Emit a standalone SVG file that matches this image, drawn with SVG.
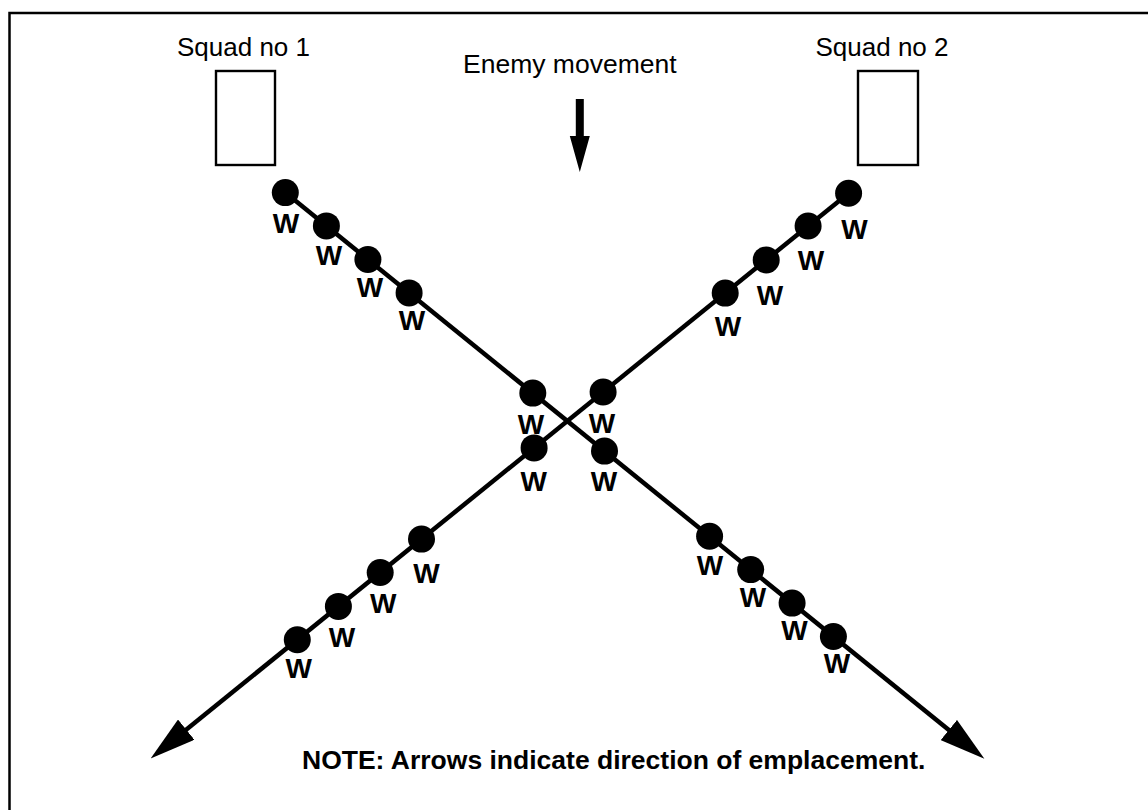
<svg xmlns="http://www.w3.org/2000/svg" width="1148" height="810" viewBox="0 0 1148 810">
<style>
.bg{fill:#fff}
.frame{fill:none;stroke:#000;stroke-width:2.5}
.box{fill:#fff;stroke:#000;stroke-width:2.4}
.dot{fill:#000}
.w{font-family:"Liberation Sans",Arial,Helvetica,sans-serif;font-weight:bold;font-size:28px;text-anchor:middle;fill:#000}
.lbl{font-family:"Liberation Sans",Arial,Helvetica,sans-serif;font-size:26px;fill:#000}
.note{font-family:"Liberation Sans",Arial,Helvetica,sans-serif;font-size:26.5px;font-weight:bold;fill:#000}
.conn{stroke:#000;stroke-width:4.5;fill:none;marker-end:url(#ah)}
</style>
<defs>
<marker id="ah" markerUnits="userSpaceOnUse" markerWidth="46" markerHeight="26" viewBox="0 0 44 25" refX="10" refY="12.5" orient="auto">
<path d="M0,0 L44,12.5 L0,25 z" fill="#000"/>
</marker>
</defs>
<rect class="bg" x="0" y="0" width="1148" height="810"/>
<path class="frame" d="M9.5,810 V13 H1148"/>

<g id="connectors">
<path id="lineA" class="conn" d="M285.3,192.6 L956.9,736.6"/>
<path id="lineB" class="conn" d="M848.6,193.2 L178.1,736.2"/>
</g>

<g id="squad1">
<text class="lbl" x="177" y="55.5">Squad no 1</text>
<rect class="box" x="216" y="71" width="59" height="94"/>
</g>
<g id="squad2">
<text class="lbl" x="815.5" y="55.5">Squad no 2</text>
<rect class="box" x="858" y="71" width="60" height="94"/>
</g>
<g id="enemy">
<text class="lbl" x="463" y="73" style="font-size:26.5px">Enemy movement</text>
<path d="M575.8,99 H583.8 V136 H589.8 L579.8,172 L569.8,136 H575.8 Z" fill="#000"/>
</g>

<g id="a1"><circle class="dot" cx="285.3" cy="192.6" r="13.5"/><text class="w" x="286" y="232.7">W</text></g>
<g id="a2"><circle class="dot" cx="326.4" cy="225.9" r="13.5"/><text class="w" x="329" y="265">W</text></g>
<g id="a3"><circle class="dot" cx="367.9" cy="259.5" r="13.5"/><text class="w" x="370" y="297">W</text></g>
<g id="a4"><circle class="dot" cx="409.1" cy="292.9" r="13.5"/><text class="w" x="412" y="330">W</text></g>
<g id="a5"><circle class="dot" cx="532.8" cy="393.1" r="13.5"/><text class="w" x="531" y="434">W</text></g>
<g id="a6"><circle class="dot" cx="604.5" cy="451.1" r="13.5"/><text class="w" x="604" y="490.7">W</text></g>
<g id="a7"><circle class="dot" cx="709.6" cy="536.3" r="13.5"/><text class="w" x="710" y="575">W</text></g>
<g id="a8"><circle class="dot" cx="750.7" cy="569.6" r="13.5"/><text class="w" x="753" y="607.3">W</text></g>
<g id="a9"><circle class="dot" cx="792.1" cy="603.1" r="13.5"/><text class="w" x="794.5" y="640">W</text></g>
<g id="a10"><circle class="dot" cx="833.4" cy="636.5" r="13.5"/><text class="w" x="837" y="672.7">W</text></g>

<g id="b1"><circle class="dot" cx="848.6" cy="193.2" r="13.5"/><text class="w" x="854.5" y="239.3">W</text></g>
<g id="b2"><circle class="dot" cx="808.1" cy="226.0" r="13.5"/><text class="w" x="811" y="270">W</text></g>
<g id="b3"><circle class="dot" cx="766.2" cy="259.9" r="13.5"/><text class="w" x="770" y="305">W</text></g>
<g id="b4"><circle class="dot" cx="725.2" cy="293.1" r="13.5"/><text class="w" x="728" y="336">W</text></g>
<g id="b5"><circle class="dot" cx="603.1" cy="392.0" r="13.5"/><text class="w" x="602" y="432.7">W</text></g>
<g id="b6"><circle class="dot" cx="534.1" cy="447.9" r="13.5"/><text class="w" x="533.8" y="490.7">W</text></g>
<g id="b7"><circle class="dot" cx="421.5" cy="539.1" r="13.5"/><text class="w" x="426.5" y="582.7">W</text></g>
<g id="b8"><circle class="dot" cx="380.2" cy="572.5" r="13.5"/><text class="w" x="383.3" y="613.3">W</text></g>
<g id="b9"><circle class="dot" cx="338.4" cy="606.4" r="13.5"/><text class="w" x="342" y="647.3">W</text></g>
<g id="b10"><circle class="dot" cx="297.3" cy="639.7" r="13.5"/><text class="w" x="298.8" y="678.3">W</text></g>

<g id="note">
<text class="note" x="302" y="769">NOTE: Arrows indicate direction of emplacement.</text>
</g>
</svg>
